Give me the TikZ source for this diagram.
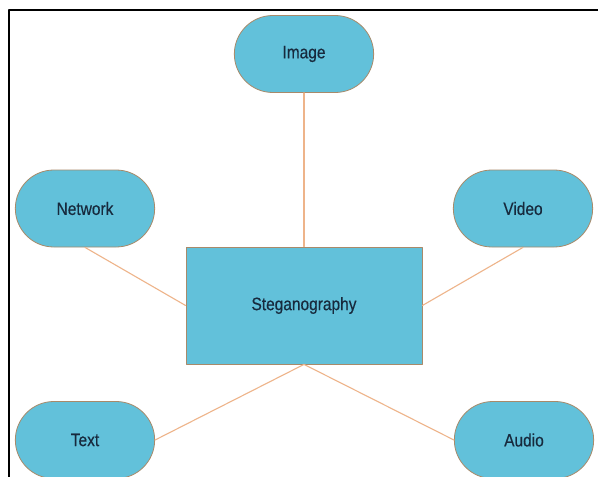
\documentclass[tikz,border=0pt]{standalone}
\usepackage{fontspec}
\setmainfont[FakeStretch=0.86,FakeBold=0.4]{Liberation Sans}
\usetikzlibrary{shapes.misc}
\definecolor{fillblue}{HTML}{62C1DA}
\definecolor{edgebrown}{HTML}{A88A6A}
\definecolor{linkorange}{HTML}{EEB48A}
\definecolor{textnavy}{HTML}{172A3D}
\tikzset{
  every picture/.style={line join=round, line cap=round},
  pill/.style={rounded rectangle, draw=edgebrown, fill=fillblue, line width=0.8pt,
    minimum width=146pt, minimum height=77pt, text=textnavy,
    font=\fontsize{18}{21}\selectfont},
  hub/.style={rectangle, draw=edgebrown, fill=fillblue, line width=0.8pt,
    minimum width=236pt, minimum height=117pt, text=textnavy,
    font=\fontsize{18}{21}\selectfont},
  link/.style={draw=linkorange, line width=1.1pt},
}

\begin{document}
\begin{tikzpicture}[x=1pt,y=-1pt]
\useasboundingbox(0,0)rectangle(598,477);
\clip(0,0)rectangle(598,477);
\fill[white](0,0)rectangle(598,477);
% frame
\draw[line width=2pt,line cap=butt](9,478)--(9,10)--(598,10);
% nodes
\node[hub](steg) at (304,305.5){Steganography};
\node[pill](image) at (304,54){Image};
\node[pill](network) at (85,208.5){Network};
\node[pill](video) at (523,208.5){Video};
\node[pill](text) at (85,440){Text};
\node[pill](audio) at (524,440){Audio};
% links
\draw[link](image.south)--(steg.north);
\draw[link](network.south)--(steg.west);
\draw[link](video.south)--(steg.east);
\draw[link](text.east)--(steg.south);
\draw[link](audio.west)--(steg.south);
\end{tikzpicture}
\end{document}
